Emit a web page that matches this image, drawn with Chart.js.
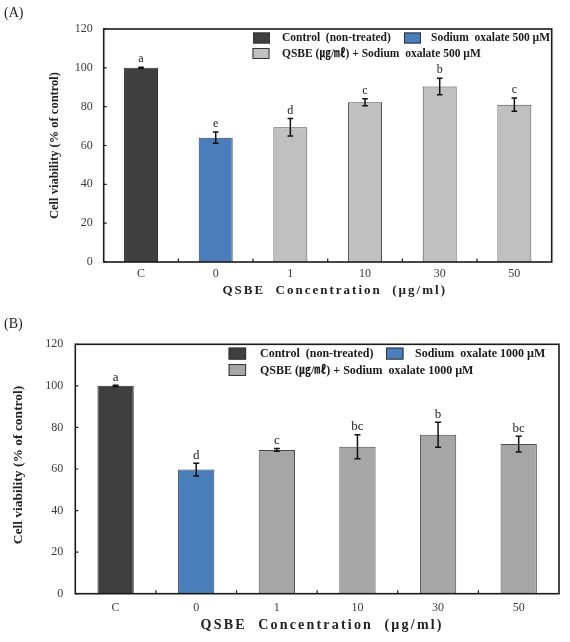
<!DOCTYPE html>
<html><head><meta charset="utf-8">
<script src="https://cdn.jsdelivr.net/npm/chart.js@4.4.1/dist/chart.umd.min.js"></script>
<style>
html,body{margin:0;padding:0;background:#fff;width:570px;height:642px;overflow:hidden}
.wrap{position:absolute;left:0;width:570px}
#wa{top:0;height:312px}
#wb{top:315px;height:327px}
</style></head><body>
<div class="wrap" id="wa"><canvas id="ca"></canvas></div>
<div class="wrap" id="wb"><canvas id="cb"></canvas></div>
<script>
// ---------- data ----------
const categories = ['C', '0', '1', '10', '30', '50'];
const yTicks = [0, 20, 40, 60, 80, 100, 120];

// Panel (A): sodium oxalate 500 µM
const controlA = [100, null, null, null, null, null];
const oxalateA = [null, 64.0, null, null, null, null];
const qsbeA    = [null, null, 69.4, 82.3, 90.4, 81.0];
const errA     = [0.3, 2.9, 4.5, 1.8, 4.2, 3.4];
const lettersA = ['a', 'e', 'd', 'c', 'b', 'c'];
const legendA  = ['Control  (non-treated)', 'Sodium  oxalate 500 \u00b5M', 'QSBE (\u338d/\u3396) + Sodium  oxalate 500 \u00b5M'];

// Panel (B): sodium oxalate 1000 µM
const controlB = [100, null, null, null, null, null];
const oxalateB = [null, 59.7, null, null, null, null];
const qsbeB    = [null, null, 69.2, 70.7, 76.5, 72.0];
const errB     = [0.3, 3.1, 0.7, 5.8, 6.0, 3.8];
const lettersB = ['a', 'd', 'c', 'bc', 'b', 'bc'];
const legendB  = ['Control  (non-treated)', 'Sodium  oxalate 1000 \u00b5M', 'QSBE (\u338d/\u3396) + Sodium  oxalate 1000 \u00b5M'];

const xTitle = 'QSBE  Concentration  (\u00b5g/ml)';
const yTitle = 'Cell viability (% of control)';

// ---------- drawing helpers ----------
const SERIF = "'Liberation Serif', 'Noto Sans CJK KR', serif";

const panelPlugin = {
  id: 'panel',
  afterDatasetsDraw(chart, args, o) {
    const ctx = chart.ctx, ys = chart.scales.y;
    ctx.save();
    for (let i = 0; i < categories.length; i++) {
      let v = null, x = null;
      chart.data.datasets.forEach((ds, di) => {
        if (ds.data[i] != null) { v = ds.data[i]; x = chart.getDatasetMeta(di).data[i].x; }
      });
      if (v == null) continue;
      const e = o.err[i];
      const yt = ys.getPixelForValue(v + e), yb = ys.getPixelForValue(v - e);
      ctx.strokeStyle = '#111'; ctx.lineWidth = 1.5;
      ctx.beginPath();
      ctx.moveTo(x, yt); ctx.lineTo(x, yb);
      ctx.moveTo(x - o.cap, yt); ctx.lineTo(x + o.cap, yt);
      ctx.moveTo(x - o.cap, yb); ctx.lineTo(x + o.cap, yb);
      ctx.stroke();
      ctx.fillStyle = '#222'; ctx.font = o.letterFont;
      ctx.textAlign = 'center'; ctx.textBaseline = 'alphabetic';
      ctx.fillText(o.letters[i], x, yt - o.letterGap);
    }
    ctx.restore();
  },
  afterDraw(chart, args, o) {
    const ctx = chart.ctx, ca = chart.chartArea, ys = chart.scales.y;
    ctx.save();
    // frame
    ctx.strokeStyle = '#1a1a1a'; ctx.lineWidth = 1.6;
    ctx.strokeRect(ca.left, ca.top, ca.right - ca.left, ca.bottom - ca.top);
    // inward ticks
    ctx.lineWidth = 1.2;
    ctx.beginPath();
    yTicks.forEach(t => {
      const y = ys.getPixelForValue(t);
      ctx.moveTo(ca.left, y); ctx.lineTo(ca.left + 3, y);
    });
    const cw = (ca.right - ca.left) / categories.length;
    for (let k = 1; k < categories.length; k++) {
      const x = ca.left + k * cw;
      ctx.moveTo(x, ca.bottom); ctx.lineTo(x, ca.bottom - 3.5);
    }
    ctx.stroke();
    // panel label
    ctx.fillStyle = '#222';
    ctx.font = o.panelFont; ctx.textAlign = 'left'; ctx.textBaseline = 'middle';
    ctx.fillText(o.panel, o.panelX, o.panelY);
    // y title
    ctx.save();
    ctx.translate(o.yTitleX, (ca.top + ca.bottom) / 2 + o.yTitleDY);
    ctx.rotate(-Math.PI / 2);
    ctx.font = o.yTitleFont; ctx.textAlign = 'center'; ctx.textBaseline = 'middle';
    ctx.fillText(yTitle, 0, 0);
    ctx.restore();
    // x title
    ctx.save();
    ctx.font = o.xTitleFont; ctx.textAlign = 'center'; ctx.textBaseline = 'middle';
    ctx.letterSpacing = o.xTitleLS;
    ctx.fillText(xTitle, (ca.left + ca.right) / 2 + o.xTitleDX, o.xTitleY);
    ctx.restore();
    // legend
    const L = o.legend;
    ctx.font = L.font; ctx.textAlign = 'left'; ctx.textBaseline = 'middle';
    L.items.forEach((it, k) => {
      const ds = chart.data.datasets[k];
      ctx.fillStyle = ds.backgroundColor;
      ctx.fillRect(it.sx, it.cy - L.sh / 2, L.sw, L.sh);
      ctx.strokeStyle = '#333'; ctx.lineWidth = 1;
      ctx.strokeRect(it.sx + 0.5, it.cy - L.sh / 2 + 0.5, L.sw - 1, L.sh - 1);
      ctx.fillStyle = '#1a1a1a';
      ctx.fillText(ds.label, it.tx, it.cy + 0.5);
    });
    ctx.restore();
  }
};

function makeChart(id, c) {
  return new Chart(document.getElementById(id), {
    type: 'bar',
    data: {
      labels: categories,
      datasets: [
        { label: c.legend[0], data: c.control, backgroundColor: c.colors[0], borderColor: '#2e2e2e', borderWidth: 1 },
        { label: c.legend[1], data: c.oxalate, backgroundColor: c.colors[1], borderColor: '#2e3f55', borderWidth: 1 },
        { label: c.legend[2], data: c.qsbe, backgroundColor: c.colors[2], borderColor: '#4a4a4a', borderWidth: 1 }
      ]
    },
    options: {
      responsive: true, maintainAspectRatio: false, animation: false, devicePixelRatio: 1,
      layout: { padding: { top: c.padTop, right: c.padRight, left: 0, bottom: 0 } },
      datasets: { bar: { skipNull: true, categoryPercentage: 1, barPercentage: c.barPct } },
      plugins: {
        legend: { display: false }, tooltip: { enabled: false },
        panel: c.panel
      },
      scales: {
        x: {
          grid: { display: false, drawTicks: false }, border: { display: false },
          ticks: { color: '#3a3a3a', font: { family: SERIF, size: c.tickSize }, padding: c.xPad },
          afterFit(s) { s.height = c.xH; }
        },
        y: {
          min: 0, max: 120,
          grid: { display: false, drawTicks: false }, border: { display: false },
          ticks: { color: '#3a3a3a', font: { family: SERIF, size: c.tickSize }, padding: c.yPad },
          afterBuildTicks(s) { s.ticks = yTicks.map(v => ({ value: v })); },
          afterFit(s) { s.width = c.yW; }
        }
      }
    },
    plugins: [panelPlugin]
  });
}

makeChart('ca', {
  control: controlA, oxalate: oxalateA, qsbe: qsbeA, legend: legendA,
  colors: ['#404040', '#4a7ebb', '#c0c0c0'],
  padTop: 29, padRight: 18.3, yW: 103.7, xH: 312 - 262, barPct: 0.455,
  tickSize: 12, xPad: 5, yPad: 11,
  panel: {
    err: errA, letters: lettersA, cap: 2.8, letterGap: 5, letterFont: '12px ' + SERIF,
    panel: '(A)', panelX: 4, panelY: 13, panelFont: '14px ' + SERIF,
    yTitleX: 54.5, yTitleDY: 0, yTitleFont: 'bold 12.5px ' + SERIF,
    xTitleDX: 7, xTitleY: 290.5, xTitleFont: 'bold 13px ' + SERIF, xTitleLS: '2px',
    legend: {
      font: 'bold 11.5px ' + SERIF, sw: 17, sh: 11,
      items: [ { sx: 253, tx: 282, cy: 38 }, { sx: 404, tx: 431, cy: 38 }, { sx: 252.5, tx: 282, cy: 53.5 } ]
    }
  }
});

makeChart('cb', {
  control: controlB, oxalate: oxalateB, qsbe: qsbeB, legend: legendB,
  colors: ['#3f3f3f', '#4a7ebb', '#a6a6a6'],
  padTop: 29.3, padRight: 11, yW: 75.3, xH: 327 - 278.7, barPct: 0.45,
  tickSize: 12, xPad: 7, yPad: 12,
  panel: {
    err: errB, letters: lettersB, cap: 3, letterGap: 4.5, letterFont: '13px ' + SERIF,
    panel: '(B)', panelX: 4, panelY: 9, panelFont: '14px ' + SERIF,
    yTitleX: 19, yTitleDY: -4, yTitleFont: 'bold 13.5px ' + SERIF,
    xTitleDX: 5, xTitleY: 310.3, xTitleFont: 'bold 14px ' + SERIF, xTitleLS: '2.2px',
    legend: {
      font: 'bold 12px ' + SERIF, sw: 17.5, sh: 12,
      items: [ { sx: 228.6, tx: 260, cy: 38.6 }, { sx: 386, tx: 415, cy: 38.6 }, { sx: 228.6, tx: 260, cy: 55 } ]
    }
  }
});
</script>
</body></html>
